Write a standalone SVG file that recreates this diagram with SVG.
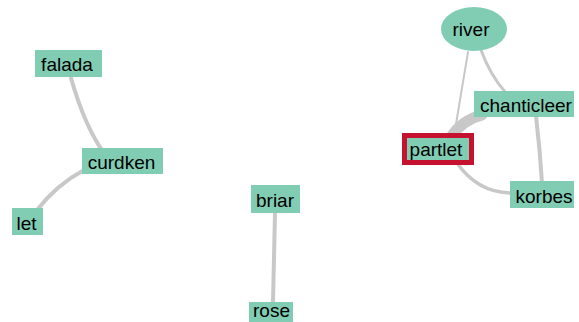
<svg xmlns="http://www.w3.org/2000/svg" width="579" height="322" viewBox="0 0 579 322">
  <style>
    .edge { fill: none; stroke: #c8c8c8; stroke-linecap: round; }
    .node { fill: #80cdb4; }
    .label { font-family: "Liberation Sans", Arial, sans-serif; font-size: 19px; fill: #000; text-anchor: middle; }
    .selected { fill: none; stroke: #c4122f; stroke-width: 5; }
  </style>
  <rect width="579" height="322" fill="#ffffff"/>

  <g id="edges">
    <path class="edge" d="M71,78 Q85,127 104,153" stroke-width="4"/>
    <path class="edge" d="M84,170 Q57,184.5 37,210" stroke-width="4"/>
    <path class="edge" d="M275,213 L273,302" stroke-width="4"/>
    <path class="edge" d="M468,52 L454,136" stroke-width="2"/>
    <path class="edge" d="M481,50 Q490,75 506,93" stroke-width="3"/>
    <path class="edge" d="M536,116 Q540,150 542,183" stroke-width="4"/>
    <path class="edge" d="M482,115 Q462,120 451,137" stroke-width="11"/>
    <path class="edge" d="M457,163 Q478,193 512,193" stroke-width="3.5"/>
  </g>

  <g id="falada">
    <rect class="node" x="35" y="50" width="67" height="27"/>
    <text class="label" x="67" y="71">falada</text>
  </g>
  <g id="curdken">
    <rect class="node" x="82" y="148" width="81" height="26"/>
    <text class="label" x="121.5" y="169">curdken</text>
  </g>
  <g id="let">
    <rect class="node" x="12" y="208" width="31" height="27"/>
    <text class="label" x="26.5" y="229.5">let</text>
  </g>
  <g id="briar">
    <rect class="node" x="251" y="185" width="49" height="28"/>
    <text class="label" x="275" y="207">briar</text>
  </g>
  <g id="rose">
    <rect class="node" x="249" y="302" width="44" height="24"/>
    <text class="label" x="271.5" y="317">rose</text>
  </g>
  <g id="river">
    <ellipse class="node" cx="474" cy="29" rx="33" ry="22"/>
    <text class="label" x="471" y="35.5">river</text>
  </g>
  <g id="chanticleer">
    <rect class="node" x="474" y="91" width="100" height="26"/>
    <text class="label" x="526" y="111.5">chanticleer</text>
  </g>
  <g id="partlet">
    <rect class="node" x="407" y="138" width="62" height="22"/>
    <rect class="selected" x="404.5" y="135.5" width="67" height="27"/>
    <text class="label" x="436" y="155.5">partlet</text>
  </g>
  <g id="korbes">
    <rect class="node" x="510" y="181" width="64" height="27"/>
    <text class="label" x="544" y="202.5">korbes</text>
  </g>
</svg>
